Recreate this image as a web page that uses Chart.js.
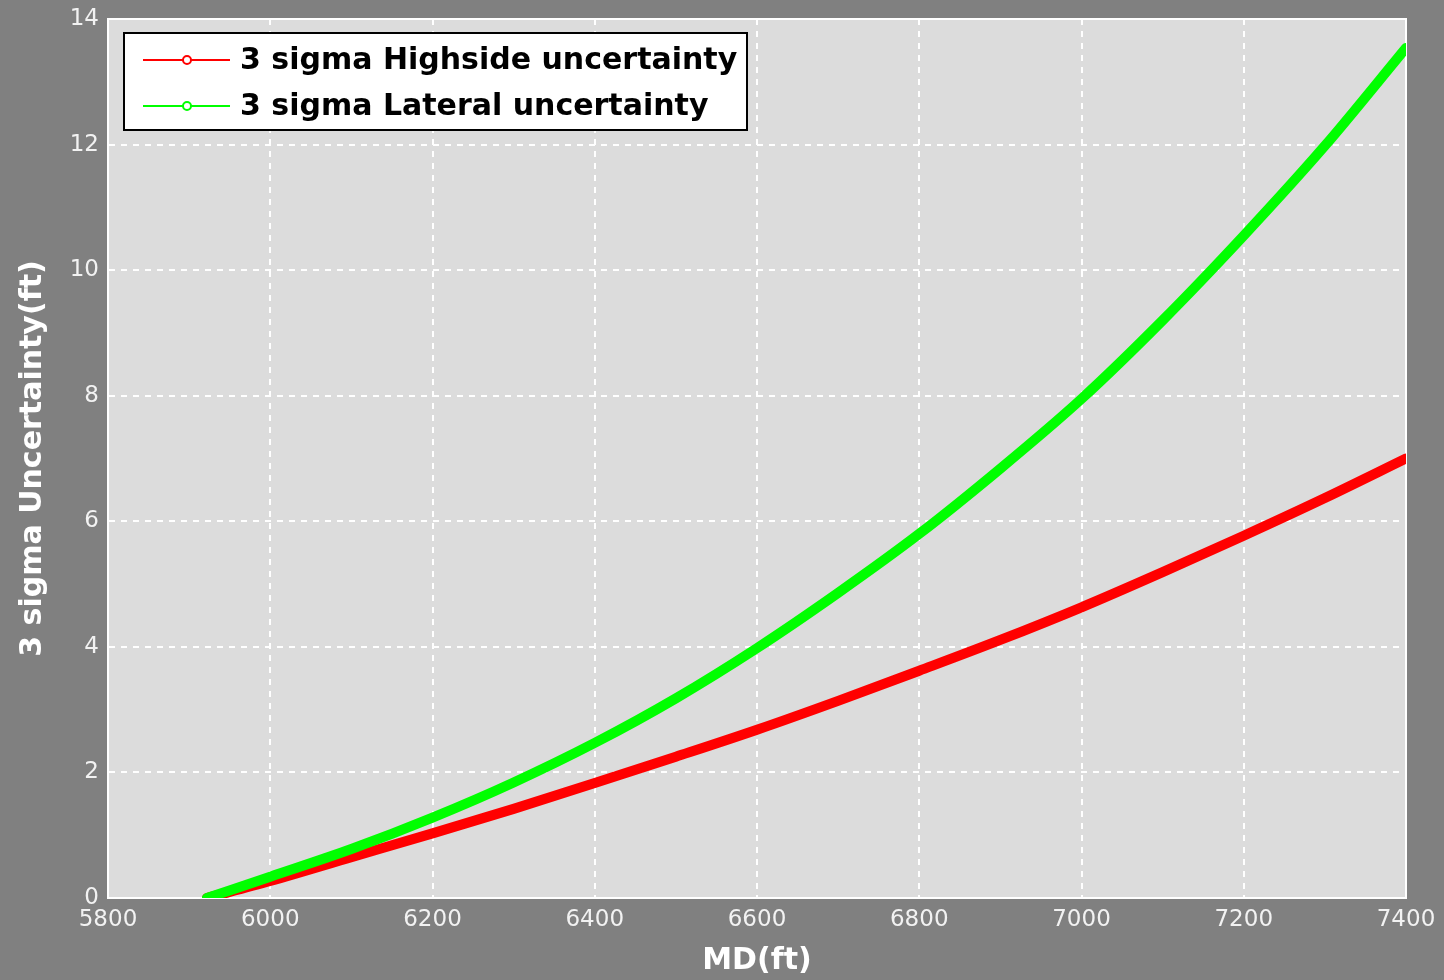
<!DOCTYPE html>
<html>
<head>
<meta charset="utf-8">
<title>3 sigma uncertainty vs MD</title>
<script src="https://cdn.jsdelivr.net/npm/chart.js@4/dist/chart.umd.min.js"></script>
<style>
  html, body { margin: 0; padding: 0; background: #808080; }
  #wrap { width: 1444px; height: 980px; }
</style>
</head>
<body>
<div id="wrap"><canvas id="c" width="1444" height="980"></canvas></div>
<script>
// Measured depth stations (ft)
const mdFt = [5922, 6000, 6100, 6200, 6300, 6400, 6500, 6600, 6700, 6800, 6900, 7000, 7100, 7200, 7300, 7400];
// 3 sigma highside uncertainty (ft)
const highside = [0, 0.27, 0.65, 1.03, 1.42, 1.83, 2.25, 2.68, 3.14, 3.62, 4.11, 4.63, 5.19, 5.77, 6.37, 7.00];
// 3 sigma lateral uncertainty (ft)
const lateral = [0, 0.34, 0.78, 1.28, 1.84, 2.47, 3.18, 3.98, 4.86, 5.80, 6.84, 7.95, 9.20, 10.55, 11.98, 13.54];

const seriesLabels = ['3 sigma Highside uncertainty', '3 sigma Lateral uncertainty'];
const seriesColors = ['#ff0000', '#00ff00'];
const xTitle = 'MD(ft)';
const yTitle = '3 sigma Uncertainty(ft)';

const toPoints = ys => mdFt.map((x, i) => ({ x, y: ys[i] }));

// Plot area fill, frame and boxed legend
const plotDecor = {
  id: 'plotDecor',
  beforeDraw(chart) {
    const { ctx, chartArea: a } = chart;
    ctx.save();
    ctx.fillStyle = '#dcdcdc';
    ctx.fillRect(a.left, a.top, a.right - a.left, a.bottom - a.top);
    ctx.restore();
  },
  beforeDatasetsDraw(chart) {
    const { ctx, chartArea: a } = chart;
    ctx.save();
    ctx.strokeStyle = '#ffffff';
    ctx.lineWidth = 2;
    ctx.strokeRect(a.left, a.top, a.right - a.left, a.bottom - a.top);
    ctx.restore();
  },
  afterDraw(chart) {
    const ctx = chart.ctx;
    const bx = 124, by = 33, bw = 623, bh = 97;
    ctx.save();
    ctx.fillStyle = '#ffffff';
    ctx.fillRect(bx, by, bw, bh);
    ctx.strokeStyle = '#000000';
    ctx.lineWidth = 2;
    ctx.strokeRect(bx, by, bw, bh);
    const rows = [60, 106];
    seriesLabels.forEach((label, i) => {
      const y = rows[i];
      ctx.strokeStyle = seriesColors[i];
      ctx.lineWidth = 2;
      ctx.beginPath();
      ctx.moveTo(143, y);
      ctx.lineTo(230, y);
      ctx.stroke();
      ctx.fillStyle = '#ffffff';
      ctx.beginPath();
      ctx.arc(187, y, 4, 0, Math.PI * 2);
      ctx.fill();
      ctx.stroke();
      ctx.fillStyle = '#000000';
      ctx.font = 'bold 30px "DejaVu Sans"';
      ctx.textBaseline = 'middle';
      ctx.textAlign = 'left';
      ctx.fillText(label, 240, y + 1);
    });
    ctx.restore();
  }
};

const tickFont = { family: '"DejaVu Sans"', size: 23, weight: 'normal' };
const titleFont = { family: '"DejaVu Sans"', size: 30, weight: 'bold', lineHeight: 1.2 };
const plainNumber = v => String(v);

new Chart(document.getElementById('c'), {
  type: 'line',
  data: {
    datasets: [
      {
        label: seriesLabels[0],
        data: toPoints(highside),
        borderColor: seriesColors[0],
        backgroundColor: seriesColors[0],
        borderWidth: 10,
        borderCapStyle: 'round',
        borderJoinStyle: 'round',
        pointRadius: 0,
        cubicInterpolationMode: 'monotone',
        order: 1
      },
      {
        label: seriesLabels[1],
        data: toPoints(lateral),
        borderColor: seriesColors[1],
        backgroundColor: seriesColors[1],
        borderWidth: 10,
        borderCapStyle: 'round',
        borderJoinStyle: 'round',
        pointRadius: 0,
        cubicInterpolationMode: 'monotone',
        order: 0
      }
    ]
  },
  options: {
    responsive: false,
    devicePixelRatio: 1,
    animation: false,
    layout: { padding: { top: 19, right: 38, left: 0, bottom: 0 } },
    plugins: {
      legend: { display: false },
      tooltip: { enabled: false }
    },
    scales: {
      x: {
        type: 'linear',
        min: 5800,
        max: 7400,
        ticks: { stepSize: 200, color: '#f2f2f2', font: tickFont, padding: 8, maxRotation: 0, callback: plainNumber },
        grid: { color: '#ffffff', lineWidth: 2, drawTicks: false },
        border: { display: true, color: '#ffffff', width: 2, dash: [6, 6] },
        title: { display: true, text: xTitle, color: '#ffffff', font: titleFont, padding: { top: 0, bottom: 1 } },
        afterFit(s) { s.height = 82; s.paddingLeft = 0; s.paddingRight = 0; }
      },
      y: {
        type: 'linear',
        min: 0,
        max: 14,
        ticks: { stepSize: 2, color: '#f2f2f2', font: tickFont, padding: 9, callback: plainNumber },
        grid: { color: '#ffffff', lineWidth: 2, drawTicks: false },
        border: { display: true, color: '#ffffff', width: 2, dash: [6, 6] },
        title: { display: true, text: yTitle, color: '#ffffff', font: titleFont, padding: { top: 15, bottom: 0 } },
        afterFit(s) { s.width = 108; s.paddingTop = 0; s.paddingBottom = 0; }
      }
    }
  },
  plugins: [plotDecor]
});
</script>
</body>
</html>
